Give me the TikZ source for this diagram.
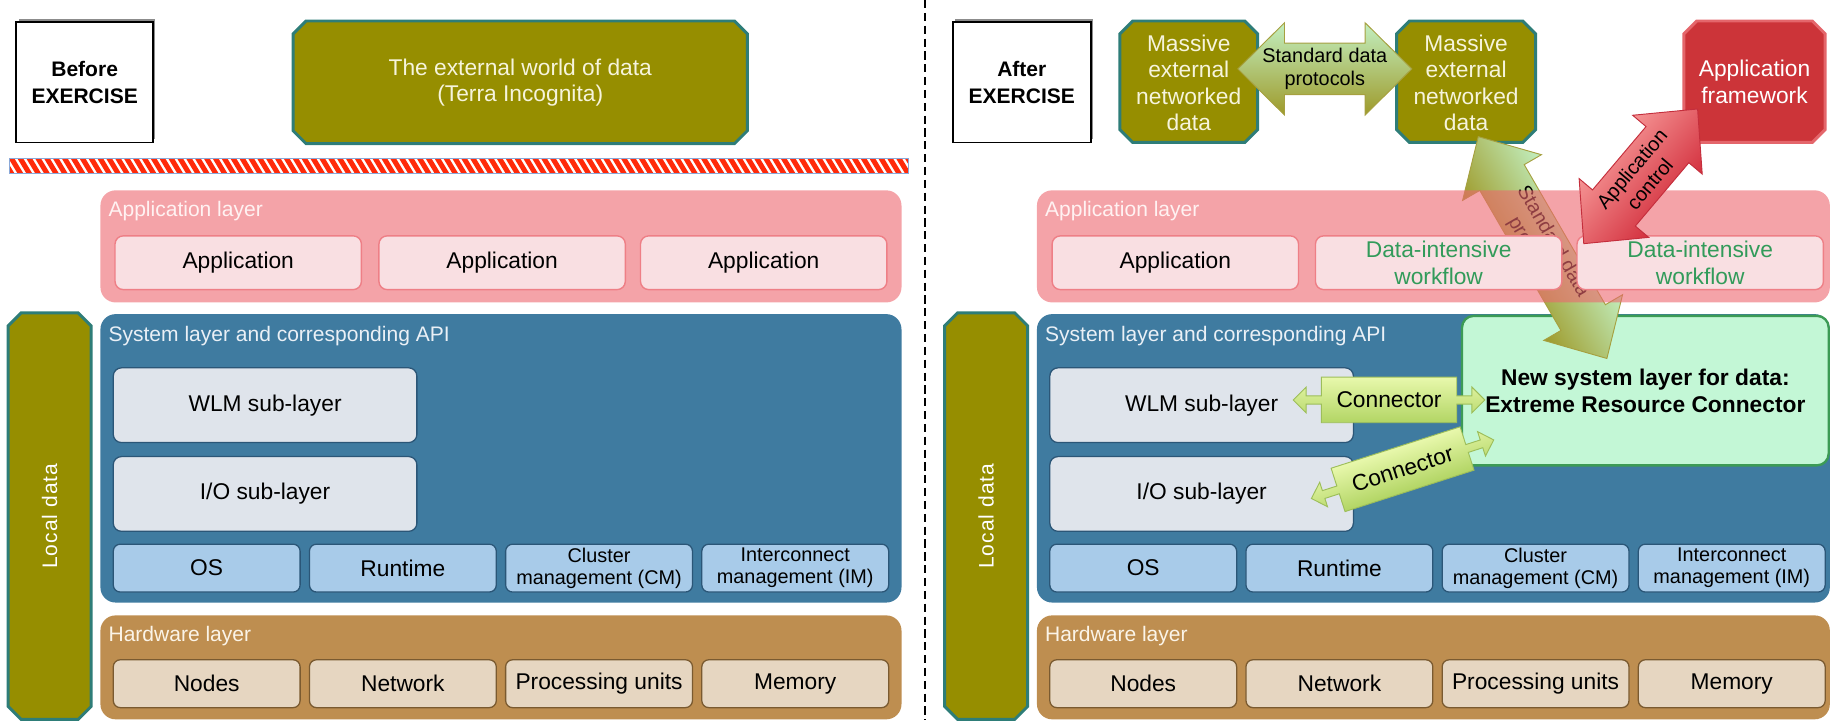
\documentclass[tikz,border=0pt]{standalone}
\usepackage{fontspec}
\setmainfont{Liberation Sans}
\newfontfamily\spacedsans{Liberation Sans}[LetterSpace=5]
\usetikzlibrary{shadows}

% palette
\definecolor{terraolive}{HTML}{968E00}
\definecolor{terrateal}{HTML}{2E7D78}
\definecolor{terratxt}{HTML}{F6F4DC}
\definecolor{applayerpink}{HTML}{ED666E}
\definecolor{appboxfill}{HTML}{F9DFE2}
\definecolor{appboxline}{HTML}{EE7F86}
\definecolor{apptitle}{HTML}{FFF2F2}
\definecolor{syslayerblue}{HTML}{3F7BA0}
\definecolor{systitle}{HTML}{EAF0F6}
\definecolor{subfill}{HTML}{DFE4EB}
\definecolor{subline}{HTML}{2B5677}
\definecolor{osfill}{HTML}{A8CBE9}
\definecolor{hwbrown}{HTML}{BE8E50}
\definecolor{hwtitle}{HTML}{FBF4E8}
\definecolor{hwfill}{HTML}{E6D6C1}
\definecolor{hwline}{HTML}{7A5A30}
\definecolor{fwred}{HTML}{CC3439}
\definecolor{fwline}{HTML}{E4666B}
\definecolor{ercfill}{HTML}{C3F7D6}
\definecolor{ercline}{HTML}{3C9B55}
\definecolor{datagreen}{HTML}{329B5A}
\definecolor{stripered}{HTML}{FF2A0A}
\definecolor{stripeedge}{HTML}{8AA8D8}
\definecolor{protolight}{HTML}{C2EFC0}
\definecolor{protodark}{HTML}{9E9A2A}
\definecolor{protoline}{HTML}{A6A040}
\definecolor{connlight}{HTML}{E8F8AC}
\definecolor{conndark}{HTML}{B2D564}
\definecolor{connline}{HTML}{9DBE5A}
\definecolor{ctrllight}{HTML}{F59494}
\definecolor{ctrldark}{HTML}{D3303E}
\definecolor{ctrlline}{HTML}{C42E3C}

% font sizes
\newcommand\txtbody{\fontsize{19.5}{22.5}\selectfont}
\newcommand\txtsmall{\fontsize{17}{19}\selectfont}
\newcommand\txttitle{\fontsize{18}{21}\selectfont}
\newcommand\txtarrow{\fontsize{17}{20}\selectfont}
\newcommand\txtbold{\fontsize{19.5}{23}\selectfont\bfseries}
\newcommand\txttag{\fontsize{18}{23}\selectfont\bfseries}
\newcommand\txtlocal{\spacedsans\fontsize{18}{21}\selectfont}

% outline helpers: chamfered box (x1,y1,x2,y2,cut), double block arrow (half length, head length, shaft half width, head half width)
\newcommand\chamferpath[5]{(#1+#5,#2) -- (#3-#5,#2) -- (#3,#2+#5) -- (#3,#4-#5) -- (#3-#5,#4) -- (#1+#5,#4) -- (#1,#4-#5) -- (#1,#2+#5) -- cycle}
\newcommand\blockarrow[4]{(-#1,0) -- (-#1+#2,#4) -- (-#1+#2,#3) -- (#1-#2,#3) -- (#1-#2,#4) -- (#1,0) -- (#1-#2,-#4) -- (#1-#2,-#3) -- (-#1+#2,-#3) -- (-#1+#2,-#4) -- cycle}
% connector callout: body with a small two-way arrow on each side
\newcommand\connectorpath{(-82,0) -- (-71,11) -- (-71,3.5) -- (-58,3.5) -- (-58,19.5) -- (58,19.5) -- (58,3.5) -- (71,3.5) -- (71,11) -- (82,0) -- (71,-11) -- (71,-3.5) -- (58,-3.5) -- (58,-19.5) -- (-58,-19.5) -- (-58,-3.5) -- (-71,-3.5) -- (-71,-11) -- cycle}

\begin{document}
\begin{tikzpicture}[x=1pt, y=-1pt,
  every node/.style={inner sep=0pt, outer sep=0pt, align=center},
  layerbox/.style={rounded corners=13, minimum width=686},
  layertitle/.style={anchor=west, font=\txttitle},
  sublayer/.style={draw=subline, fill=subfill, line width=1.1, rounded corners=7, minimum width=260, minimum height=64, font=\txtbody},
  osbox/.style={draw=subline, fill=osfill, line width=1.1, rounded corners=6, minimum width=160, minimum height=41, font=\txtbody},
  hwbox/.style={draw=hwline, fill=hwfill, line width=1.1, rounded corners=6, minimum width=160, minimum height=41, font=\txtbody},
  appbox/.style={draw=appboxline, fill=appboxfill, line width=1.2, rounded corners=7, minimum width=211, minimum height=46, font=\txtbody},
  tagbox/.style={draw=black, line width=1.5, fill=white, minimum width=117, minimum height=103, font=\txttag,
    drop shadow={shadow xshift=2, shadow yshift=-3, fill=black, opacity=0.45}},
  terrabox/.style={fill=terraolive, draw=terrateal, line width=2.5},
  terratext/.style={text=terratxt, font=\txtbody},
  localtext/.style={text=white, font=\txtlocal},
  fwbox/.style={fill=fwred, draw=fwline, line width=2.5},
  ercbox/.style={fill=ercfill, draw=ercline, line width=2, rounded corners=10, minimum width=314, minimum height=128, font=\txtbold},
  protoarrow/.style={top color=protolight, bottom color=protodark, draw=protoline, line width=0.8},
  ctrlarrow/.style={top color=ctrllight, bottom color=ctrldark, draw=ctrlline, line width=0.8},
  connarrow/.style={top color=connlight, bottom color=conndark, draw=connline, line width=0.8},
  arrowtext/.style={font=\txtarrow, text=black},
  conntext/.style={font=\txtbody, text=black}]
\useasboundingbox (0,0) rectangle (1568,617);
\begin{scope}
\clip (0,0) rectangle (1568,617);

% dashed separator between the two halves
\coordinate (cuttop) at (792,0);
\coordinate (cutbot) at (792,617);
\draw[line width=1.3, dash pattern=on 7 off 4] (cuttop) -- (cutbot);

%================ BEFORE ================
\node[tagbox] (before) at (72.5,70.5) {Before\\EXERCISE};
\path[terrabox] \chamferpath{251}{18}{640}{123}{11};
\node[terratext] (terra) at (445.5,70.5) {The external world of data\\(Terra Incognita)};

% hazard barrier
\begin{scope}
  \clip (8,135.6) rectangle (778,148.4);
  \fill[white] (8,135.6) rectangle (778,148.4);
  \foreach \k in {0,...,104}{\draw[stripered, line width=4.3] ({7.6*\k},132) -- ({7.6*\k+12},152);}
\end{scope}
\draw[stripeedge, line width=0.8] (8,135.6) rectangle (778,148.4);

% local data column
\path[terrabox] \chamferpath{7}{268}{78}{616}{11};
\node[localtext, rotate=90] (localL) at (42.5,442) {Local data};

% system layer
\node[layerbox, fill=syslayerblue, minimum height=247] (sysL) at (429,392.5) {};
\node[layertitle, text=systitle] (sysLt) at (93,288) {System layer and corresponding API};
\node[sublayer] (wlmL) at (227,347) {WLM sub-layer};
\node[sublayer] (ioL) at (227,423) {I/O sub-layer};
\node[osbox] (osL) at (177,486.5) {OS};
\node[osbox] (rtL) at (345,486.5) {Runtime};
\node[osbox, font=\txtsmall] (cmL) at (513,486.5) {Cluster\\management (CM)};
\node[osbox, font=\txtsmall] (imL) at (681,486.5) {Interconnect\\management (IM)};

% hardware layer
\node[layerbox, fill=hwbrown, minimum height=89] (hwL) at (429,571.5) {};
\node[layertitle, text=hwtitle] (hwLt) at (93,545) {Hardware layer};
\node[hwbox] (nodesL) at (177,585.5) {Nodes};
\node[hwbox] (netL) at (345,585.5) {Network};
\node[hwbox] (puL) at (513,585.5) {Processing units};
\node[hwbox] (memL) at (681,585.5) {Memory};

% application layer
\node[layerbox, fill=applayerpink, fill opacity=0.6, minimum height=96] (appL) at (429,211) {};
\node[layertitle, text=apptitle] (appLt) at (93,181) {Application layer};
\node[appbox] (app1L) at (204,225) {Application};
\node[appbox] (app2L) at (430,225) {Application};
\node[appbox] (app3L) at (654,225) {Application};

%================ AFTER ================
\node[tagbox, minimum width=118] (after) at (875,70.5) {After\\EXERCISE};
\path[terrabox] \chamferpath{959}{18}{1077}{122}{11};
\node[terratext] (mass1) at (1018,71) {Massive\\external\\networked\\data};
\path[terrabox] \chamferpath{1196}{18}{1315}{122}{11};
\node[terratext] (mass2) at (1255.5,71) {Massive\\external\\networked\\data};
\path[fwbox] \chamferpath{1442}{18}{1563}{122}{11};
\node[text=white, font=\txtbody] (appfw) at (1502.5,70) {Application\\framework};

% protocol link between the two data sources
\begin{scope}[shift={(1134.5,59)}]
  \path[protoarrow] \blockarrow{74.5}{40}{22}{39.5};
  \node[arrowtext] (stdh) at (0,0) {Standard data\\protocols};
\end{scope}

% local data column
\path[terrabox] \chamferpath{809}{268}{880}{616}{11};
\node[localtext, rotate=90] (localR) at (844.5,442) {Local data};

% system layer
\node[layerbox, minimum width=679, fill=syslayerblue, minimum height=247] (sysR) at (1227.5,392.5) {};
\node[layertitle, text=systitle] (sysRt) at (895,288) {System layer and corresponding API};
\node[sublayer] (wlmR) at (1029,347) {WLM sub-layer};
\node[sublayer] (ioR) at (1029,423) {I/O sub-layer};
\node[osbox] (osR) at (979,486.5) {OS};
\node[osbox] (rtR) at (1147,486.5) {Runtime};
\node[osbox, font=\txtsmall] (cmR) at (1315,486.5) {Cluster\\management (CM)};
\node[osbox, font=\txtsmall] (imR) at (1483,486.5) {Interconnect\\management (IM)};
\node[ercbox] (erc) at (1409,334.5) {New system layer for data:\\Extreme Resource Connector};

% hardware layer
\node[layerbox, minimum width=679, fill=hwbrown, minimum height=89] (hwR) at (1227.5,571.5) {};
\node[layertitle, text=hwtitle] (hwRt) at (895,545) {Hardware layer};
\node[hwbox] (nodesR) at (979,585.5) {Nodes};
\node[hwbox] (netR) at (1147,585.5) {Network};
\node[hwbox] (puR) at (1315,585.5) {Processing units};
\node[hwbox] (memR) at (1483,585.5) {Memory};

% protocol link from the external data down to the connector layer
\begin{scope}[transform canvas={shift={(1321,212)}, rotate=-59.9}]
  \path[protoarrow] \blockarrow{109.8}{40.5}{22}{39};
\end{scope}
\node[arrowtext, rotate=-59.9] (stdd) at (1321,212) {Standard data\\protocols};

% application layer
\node[layerbox, minimum width=679, fill=applayerpink, fill opacity=0.6, minimum height=96] (appR) at (1227.5,211) {};
\node[layertitle, text=apptitle] (appRt) at (895,181) {Application layer};
\node[appbox] (app1R) at (1006.5,225) {Application};
\node[appbox, text=datagreen] (dwf1R) at (1232,225) {Data-intensive\\workflow};
\node[appbox, text=datagreen] (dwf2R) at (1456,225) {Data-intensive\\workflow};

% application control
\begin{scope}[transform canvas={shift={(1405,151)}, rotate=49.8}]
  \path[ctrlarrow] \blockarrow{75.5}{40}{24}{39};
\end{scope}
\node[arrowtext, rotate=49.8] (ctrl) at (1405,151) {Application\\control};

% connectors to the sub-layers
\begin{scope}[shift={(1189.5,342.5)}]
  \path[connarrow] \connectorpath;
  \node[conntext] (conn1) at (0,0) {Connector};
\end{scope}
\begin{scope}[transform canvas={shift={(1201.1,401.8)}, rotate=17.8}]
  \path[connarrow] \connectorpath;
\end{scope}
\node[conntext, rotate=17.8] (conn2) at (1201.1,401.8) {Connector};

\end{scope}
\end{tikzpicture}
\end{document}
